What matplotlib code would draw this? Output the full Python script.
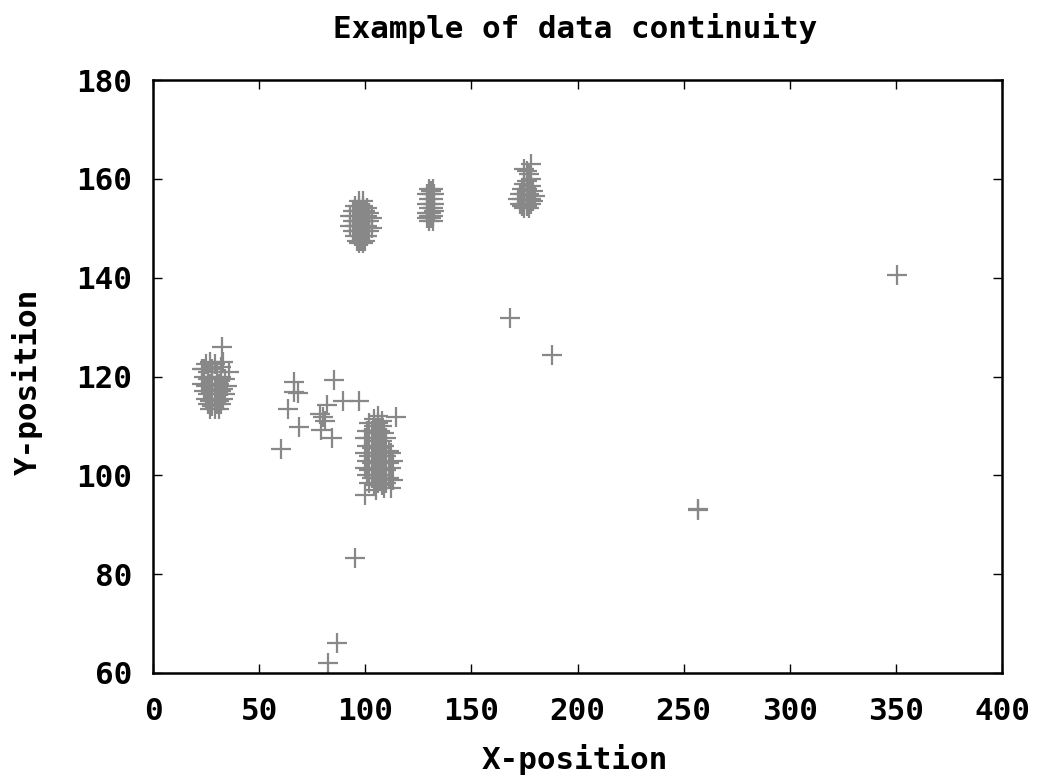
import matplotlib
matplotlib.use("Agg")
import matplotlib.pyplot as plt

# ---- data ----
A_x = [25, 27, 29, 24, 26, 28, 30, 32, 24, 26, 28, 30, 32, 34, 23, 25, 27, 29, 31, 33,
       24, 26, 28, 30, 32, 34, 25, 27, 29, 31, 33, 26, 28, 30, 32, 27, 29, 31, 35, 36, 32.5, 23, 33]
A_y = [122.5, 123, 122.5, 121.5, 121, 121.5, 121, 122, 120, 119.5, 120, 119.5, 120, 119.5,
       118.5, 118, 118.5, 118, 118.5, 117.5, 117, 116.5, 117, 116.5, 117, 116.5,
       115.5, 115, 115.5, 115, 115.5, 114.5, 114, 114.5, 114.5, 113.5, 113.5, 113.5,
       118, 121, 126, 121.5, 123]

B_x = [97, 99, 95, 97, 99, 101, 94, 96, 98, 100, 102, 93, 95, 97, 99, 101, 103,
       94, 96, 98, 100, 102, 93, 95, 97, 99, 101, 103, 94, 96, 98, 100, 102,
       95, 97, 99, 101, 96, 98, 100, 97, 99]
B_y = [155.5, 155.5, 154.5, 154.5, 154.5, 154, 153.5, 153.5, 153.5, 153.5, 153,
       152.5, 152.5, 152.5, 152.5, 152.5, 152, 151.5, 151.5, 151.5, 151.5, 151.5,
       150.5, 150.5, 150.5, 150.5, 150.5, 150, 149.5, 149.5, 149.5, 149.5, 149.5,
       148.5, 148.5, 148.5, 148.5, 147.5, 147.5, 147.5, 147, 147]

C_x = [130, 132, 129, 131, 132.5, 130, 132, 129, 131, 132.5, 130, 132, 129, 131, 132.5,
       130, 132, 129, 131, 130, 132, 131]
C_y = [158, 158, 157, 157, 157, 156, 156, 155, 155, 155, 154, 154, 153, 153, 153.5,
       152.5, 152.5, 152, 152, 151.5, 151.5, 157.5]

D_x = [174, 176, 178, 173, 175, 177, 179, 172, 174, 176, 178, 180, 173, 175, 177, 179,
       174, 176, 178, 175, 177, 176, 175, 178, 176, 178, 175, 177]
D_y = [158, 158, 158.5, 157, 157, 157, 157.5, 156, 156, 156, 156, 156.5, 155, 155, 155,
       155.5, 154.5, 154.5, 155, 154, 154, 159.5, 159, 160, 161.5, 163, 162, 161]

E_x = [104, 106, 108, 102, 104, 106, 108, 101, 103, 105, 107, 109, 100, 102, 104, 106, 108, 110,
       101, 103, 105, 107, 109, 111, 100, 102, 104, 106, 108, 110, 112,
       101, 103, 105, 107, 109, 111, 113, 100, 102, 104, 106, 108, 110, 112,
       101, 103, 105, 107, 109, 111, 102, 104, 106, 108, 110, 112, 100, 105, 109, 113]
E_y = [111.5, 112, 111, 110.5, 110, 110.5, 110, 109, 109, 108.5, 109, 108.5,
       107.5, 107.5, 107, 107.5, 107, 107.5, 106, 105.5, 106, 105.5, 106, 105,
       104.5, 104, 104.5, 104, 104.5, 104, 104.5, 103, 102.5, 103, 102.5, 103, 102.5, 103,
       101.5, 101, 101.5, 101, 101.5, 101, 101.5, 100, 99.5, 100, 99.5, 100, 99.5,
       98.5, 98, 98.5, 98, 98.5, 97.5, 96, 97, 97.5, 99]

S_x = [66.4, 66.4, 68.2, 63.5, 68.7, 60.2, 85.2, 81.9, 80, 78.5, 81, 79, 84.2, 89.4,
       96.9, 114.4, 95, 86.6, 82.4, 168, 188.2, 257, 256.6, 350.6]
S_y = [118.9, 116.8, 116.6, 113.4, 109.8, 105.3, 119.3, 114.2, 111.8, 112.5, 111, 109.1,
       107.5, 115, 115, 111.8, 83.2, 66, 62, 131.8, 124.3, 93, 93.2, 140.5]

x_ticks = [0, 50, 100, 150, 200, 250, 300, 350, 400]
y_ticks = [60, 80, 100, 120, 140, 160, 180]

title = "Example of data continuity"
x_label = "X-position"
y_label = "Y-position"

# ---- figure ----
W, H = 1043, 779
fig = plt.figure(figsize=(W / 100, H / 100), dpi=100)
L, R, T, B = 153, 1002, 80, 673
ax = fig.add_axes([L / W, 1 - B / H, (R - L) / W, (B - T) / H])

font = dict(family="DejaVu Sans Mono", weight="bold", size=22.3)

xs = A_x + B_x + C_x + D_x + E_x + S_x
ys = A_y + B_y + C_y + D_y + E_y + S_y
ax.plot(xs, ys, linestyle="none", marker="+", markersize=14, markeredgewidth=1.6,
        color="#888888")

ax.set_xlim(0, 400)
ax.set_ylim(60, 180)
ax.set_xticks(x_ticks)
ax.set_yticks(y_ticks)
ax.set_xticklabels([str(v) for v in x_ticks], **font)
ax.set_yticklabels([str(v) for v in y_ticks], **font)
ax.tick_params(direction="in", length=6.5, width=1.0, top=True, right=True, color="black")
ax.tick_params(axis="x", pad=17)
ax.tick_params(axis="y", pad=15)
for sp in ax.spines.values():
    sp.set_linewidth(1.8)
    sp.set_color("black")

fig.text(575 / W, 1 - 38 / H, title, ha="center", va="baseline", **font)
fig.text(575 / W, 1 - 769 / H, x_label, ha="center", va="baseline", **font)
fig.text(36.5 / W, 1 - 382 / H, y_label, ha="center", va="baseline", rotation=90,
         rotation_mode="anchor", **font)

fig.savefig("out.png", dpi=100)
